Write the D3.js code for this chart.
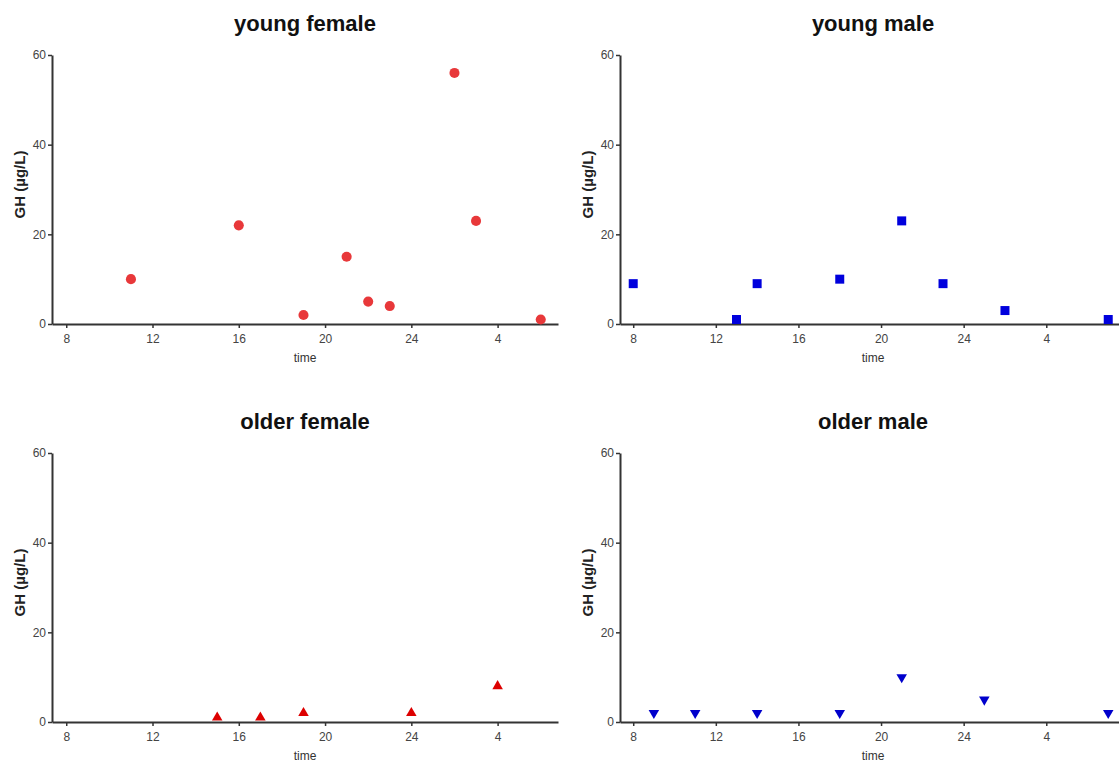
<!DOCTYPE html>
<html>
<head>
<meta charset="utf-8">
<script src="https://cdn.jsdelivr.net/npm/d3@7"></script>
<style>
  body { margin: 0; background: #fff; }
  svg { display: block; font-family: "Liberation Sans", Arial, sans-serif; }
</style>
</head>
<body>
<div class="chart"></div>
<script>
// clock hours, after midnight counted on past 24
var hourTicks = [8, 12, 16, 20, 24, 28];
var ghTicks = [0, 20, 40, 60];

var youngFemaleTime = [11, 16, 19, 21, 22, 23, 26, 27, 30];
var youngFemaleGH   = [10, 22, 2, 15, 5, 4, 56, 23, 1];

var youngMaleTime = [8, 13, 14, 18, 21, 23, 26, 31];
var youngMaleGH   = [9, 1, 9, 10, 23, 9, 3, 1];

var olderFemaleTime = [15, 17, 19, 24, 28];
var olderFemaleGH   = [1, 1, 2, 2, 8];

var olderMaleTime = [9, 11, 14, 18, 21, 25, 31];
var olderMaleGH   = [2, 2, 2, 2, 10, 5, 2];

var chart_width = 1119;
var chart_height = 765;

var svg = d3.select('.chart')
  .append('svg')
  .attr('width', chart_width)
  .attr('height', chart_height)

// left column and right column have slightly different x scaling
var leftX = { range: [52, 558], domain: [7.34, 30.8] };
var rightX = { range: [620, 1126], domain: [7.36, 31.86] };

var panels = [
  { title: 'young female', times: youngFemaleTime, gh: youngFemaleGH, col: leftX, top: 55,
    symbol: d3.symbolCircle, size: 80, rotate: 0, color: '#e8383a' },
  { title: 'young male', times: youngMaleTime, gh: youngMaleGH, col: rightX, top: 55,
    symbol: d3.symbolSquare, size: 81, rotate: 0, color: '#0000dd' },
  { title: 'older female', times: olderFemaleTime, gh: olderFemaleGH, col: leftX, top: 453,
    symbol: d3.symbolTriangle, size: 48, rotate: 0, color: '#dd0000' },
  { title: 'older male', times: olderMaleTime, gh: olderMaleGH, col: rightX, top: 453,
    symbol: d3.symbolTriangle, size: 48, rotate: 180, color: '#0000cc' }
];

var plot_height = 269;

panels.forEach(function (p) {
  var x = d3.scaleLinear().domain(p.col.domain).range(p.col.range);
  var y = d3.scaleLinear().domain([0, 60]).range([p.top + plot_height, p.top]);
  var g = svg.append('g');

  // title
  g.append('text')
    .attr('x', (p.col.range[0] + p.col.range[1]) / 2)
    .attr('y', p.top - 24)
    .attr('text-anchor', 'middle')
    .attr('font-size', '22px')
    .attr('font-weight', 'bold')
    .attr('fill', '#111')
    .text(p.title)

  // x axis
  var xAxis = g.append('g')
    .attr('transform', 'translate(0,' + y(0) + ')')
    .call(d3.axisBottom(x)
      .tickValues(hourTicks)
      .tickFormat(function (d) { return d > 24 ? d - 24 : d })
      .tickSize(4)
      .tickSizeOuter(0)
      .tickPadding(6))
  xAxis.select('.domain').attr('stroke', '#333').attr('stroke-width', 2)
  xAxis.selectAll('.tick line').attr('stroke', '#333').attr('stroke-width', 1.5)
  xAxis.selectAll('.tick text').attr('font-size', '12px').attr('fill', '#444')

  // y axis
  var yAxis = g.append('g')
    .attr('transform', 'translate(' + p.col.range[0] + ',0)')
    .call(d3.axisLeft(y)
      .tickValues(ghTicks)
      .tickSize(4)
      .tickSizeOuter(0)
      .tickPadding(2))
  yAxis.select('.domain').attr('stroke', '#333').attr('stroke-width', 2)
  yAxis.selectAll('.tick line').attr('stroke', '#333').attr('stroke-width', 1.5)
  yAxis.selectAll('.tick text').attr('font-size', '12px').attr('fill', '#444')

  // axis titles
  g.append('text')
    .attr('x', (p.col.range[0] + p.col.range[1]) / 2)
    .attr('y', y(0) + 38)
    .attr('text-anchor', 'middle')
    .attr('font-size', '12px')
    .attr('fill', '#333')
    .text('time')

  g.append('text')
    .attr('transform', 'translate(' + (p.col.range[0] - 27) + ',' + (p.top + plot_height / 2 - 5) + ') rotate(-90)')
    .attr('text-anchor', 'middle')
    .attr('font-size', '15px')
    .attr('font-weight', 'bold')
    .attr('fill', '#222')
    .text('GH (\u00b5g/L)')

  // points
  var sym = d3.symbol().type(p.symbol).size(p.size);
  g.selectAll('path.pt')
    .data(p.times)
    .enter()
    .append('path')
    .attr('class', 'pt')
    .attr('d', sym)
    .attr('transform', function (d, i) {
      return 'translate(' + x(d) + ',' + y(p.gh[i]) + ') rotate(' + p.rotate + ')'
    })
    .attr('fill', p.color)
});
</script>
</body>
</html>
